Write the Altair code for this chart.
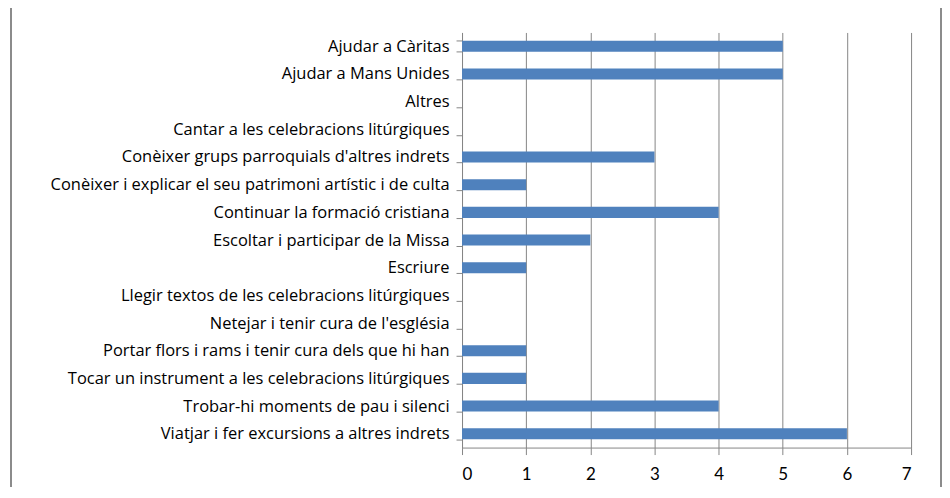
import altair as alt
import pandas as pd

categories = [
    "Ajudar a Càritas",
    "Ajudar a Mans Unides",
    "Altres",
    "Cantar a les celebracions litúrgiques",
    "Conèixer grups parroquials d'altres indrets",
    "Conèixer i explicar el seu patrimoni artístic i de culta",
    "Continuar la formació cristiana",
    "Escoltar i participar de la Missa",
    "Escriure",
    "Llegir textos de les celebracions litúrgiques",
    "Netejar i tenir cura de l'església",
    "Portar flors i rams i tenir cura dels que hi han",
    "Tocar un instrument a les celebracions litúrgiques",
    "Trobar-hi moments de pau i silenci",
    "Viatjar i fer excursions a altres indrets",
]
values = [5, 5, 0, 0, 3, 1, 4, 2, 1, 0, 0, 1, 1, 4, 6]
x_ticks = [0, 1, 2, 3, 4, 5, 6, 7]

df = pd.DataFrame({"cat": categories, "val": values})

FONT = "Open Sans"
GRAY = "#868686"

bars = alt.Chart(df).mark_bar(color="#4F81BD").encode(
    x=alt.X(
        "val:Q",
        scale=alt.Scale(domain=[0, 7], nice=False),
        axis=alt.Axis(
            values=x_ticks,
            title=None,
            grid=True,
            gridColor=GRAY,
            gridWidth=1,
            domainColor=GRAY,
            tickColor=GRAY,
            tickSize=7,
            labelFontSize=17,
            labelFont="Lato",
            labelColor="#000000",
            labelPadding=12,
        ),
    ),
    y=alt.Y(
        "cat:N",
        sort=categories,
        scale=alt.Scale(paddingInner=0.6, paddingOuter=0.3),
        axis=alt.Axis(
            title=None,
            domainColor=GRAY,
            tickColor=GRAY,
            tickSize=6,
            tickBand="extent",
            labelFontSize=16.5,
            labelFont=FONT,
            labelColor="#000000",
            labelPadding=7,
            labelLimit=0,
        ),
    ),
)

frame = alt.Chart(df).mark_rect(
    fill=None, stroke="#8c8c8c", strokeWidth=1.5
).encode(
    x=alt.value(-452), x2=alt.value(480), y=alt.value(-60), y2=alt.value(520)
)

chart = (
    alt.layer(frame, bars)
    .properties(
        width=450,
        height=416,
        autosize=alt.AutoSizeParams(type="none"),
        padding={"left": 455, "top": 24, "right": 31, "bottom": 39},
        background="white",
    )
    .configure_view(stroke=None)
)

chart.save("out.html", embed_options={"renderer": "svg", "actions": False})
